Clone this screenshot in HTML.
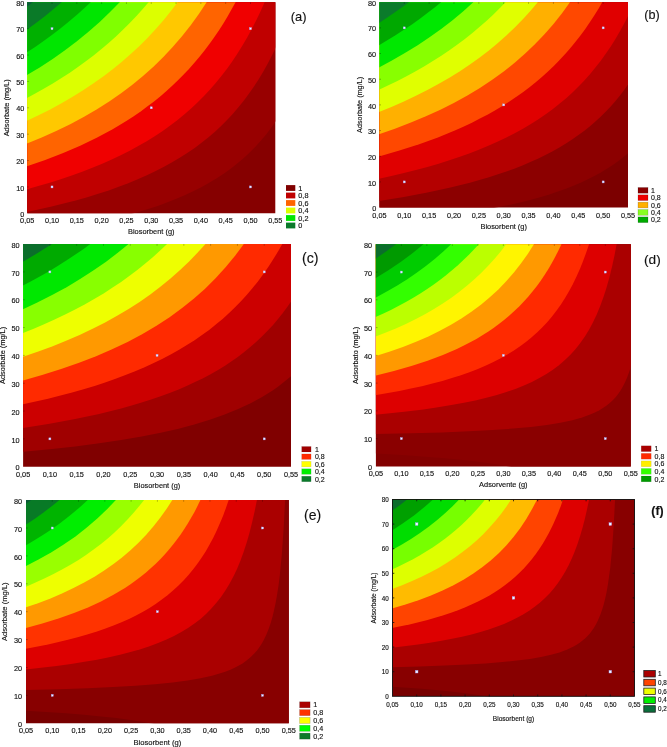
<!DOCTYPE html>
<html><head><meta charset="utf-8"><style>
html,body{margin:0;padding:0;background:#fff;width:667px;height:747px;overflow:hidden}
svg{display:block;filter:blur(0.35px)}
</style></head><body>
<svg width="667" height="747" viewBox="0 0 667 747" font-family='"Liberation Sans", sans-serif'>
<style>text{stroke:#111;stroke-width:0.14px;fill:#111}</style>
<clipPath id="clipa"><rect x="27.20" y="2.30" width="248.10" height="211.00"/></clipPath>
<g clip-path="url(#clipa)">
<rect x="26.20" y="1.30" width="250.10" height="213.00" fill="#860000"/>
<path d="M276.3,1.3 276.3,120.6 271.2,127.8 266.3,134.3 260.8,140.8 255.4,146.8 249.4,152.8 243.5,158.3 237.2,163.6 230.7,168.7 223.7,173.7 216.7,178.3 209.2,182.8 201.2,187.2 193.2,191.3 184.6,195.3 175.7,199.1 166.2,202.8 157.7,205.9 148.9,208.8 130.5,214.3 26.2,214.3 26.2,1.3Z" fill="#980000"/>
<path d="M276.3,1.3 276.3,46.4 272.2,55.0 267.9,63.3 263.5,71.3 258.7,79.3 253.8,86.8 248.7,94.1 243.7,100.8 238.2,107.6 232.7,114.0 226.8,120.3 220.8,126.3 214.7,131.9 208.2,137.5 201.5,142.8 194.7,147.9 187.2,153.0 179.7,157.8 172.1,162.3 164.0,166.8 155.7,171.1 146.8,175.3 137.7,179.3 128.2,183.2 118.7,186.8 108.7,190.4 98.2,193.8 87.2,197.2 75.7,200.5 63.7,203.6 51.7,206.5 26.2,212.1 26.2,1.3Z" fill="#c00000"/>
<path d="M265.0,1.3 260.8,10.8 256.5,19.8 251.9,28.8 247.3,37.3 242.3,45.8 237.3,53.8 232.2,61.5 227.0,68.8 221.2,76.3 215.7,83.1 209.8,89.8 203.7,96.3 197.2,102.8 190.8,108.8 184.2,114.5 177.2,120.2 170.2,125.5 162.7,130.9 154.7,136.2 146.7,141.2 138.2,146.1 129.7,150.7 120.7,155.3 111.7,159.5 102.2,163.7 92.3,167.8 82.2,171.7 71.7,175.5 60.7,179.2 49.7,182.7 38.2,186.1 26.2,189.4 26.2,1.3Z" fill="#f00000"/>
<path d="M236.1,1.3 227.7,16.3 223.2,23.7 218.7,30.7 213.9,37.8 209.2,44.3 204.3,50.8 199.5,56.8 194.2,63.1 188.7,69.2 183.2,75.1 177.7,80.6 172.2,85.8 166.2,91.3 160.2,96.4 153.7,101.7 147.2,106.6 140.7,111.4 133.7,116.2 126.7,120.7 119.7,125.0 112.2,129.4 104.7,133.6 96.7,137.7 80.2,145.7 63.2,153.0 45.2,160.0 26.2,166.6 26.2,1.3Z" fill="#ff6400"/>
<path d="M207.2,1.3 199.2,13.4 190.7,25.2 182.0,36.3 172.9,46.8 163.6,56.8 153.7,66.5 143.3,75.8 132.4,84.8 121.1,93.3 109.2,101.6 97.0,109.3 84.1,116.8 70.7,123.9 56.2,131.0 41.7,137.5 26.2,143.9 26.2,1.3Z" fill="#ffc800"/>
<path d="M178.3,1.3 171.1,10.8 163.7,19.9 156.0,28.8 147.7,37.7 139.2,46.2 130.7,54.1 121.9,61.8 112.7,69.3 103.2,76.5 93.2,83.6 82.7,90.6 72.2,97.1 61.5,103.3 50.2,109.4 38.5,115.3 26.2,121.1 26.2,1.3Z" fill="#dcff00"/>
<path d="M149.4,1.3 143.2,8.6 136.7,15.8 130.0,22.8 123.2,29.6 116.2,36.2 109.2,42.5 101.8,48.8 94.2,54.9 86.2,61.0 78.3,66.8 70.2,72.4 61.9,77.8 53.2,83.2 44.6,88.3 35.7,93.3 26.2,98.4 26.2,1.3Z" fill="#80ff00"/>
<path d="M120.6,1.3 110.3,11.8 99.7,21.9 88.5,31.8 76.9,41.3 65.0,50.3 52.7,59.0 39.7,67.4 26.2,75.6 26.2,1.3Z" fill="#00e600"/>
<path d="M91.7,1.3 84.2,8.3 76.7,15.0 68.7,21.8 60.7,28.3 52.2,34.8 44.0,40.8 35.2,46.9 26.2,52.9 26.2,1.3Z" fill="#00b000"/>
<path d="M62.8,1.3 54.2,8.6 45.2,15.9 35.7,23.2 26.2,30.1 26.2,1.3Z" fill="#0a7a28"/>
<path d="M33.9,1.3 26.2,7.4 26.2,1.3Z" fill="#0a5a3a"/>
<rect x="51.01" y="185.93" width="2.00" height="2.00" fill="#f4f4ff" stroke="#9aa0ff" stroke-width="0.4"/>
<rect x="51.01" y="27.68" width="2.00" height="2.00" fill="#f4f4ff" stroke="#9aa0ff" stroke-width="0.4"/>
<rect x="150.25" y="106.80" width="2.00" height="2.00" fill="#f4f4ff" stroke="#9aa0ff" stroke-width="0.4"/>
<rect x="249.49" y="185.93" width="2.00" height="2.00" fill="#f4f4ff" stroke="#9aa0ff" stroke-width="0.4"/>
<rect x="249.49" y="27.68" width="2.00" height="2.00" fill="#f4f4ff" stroke="#9aa0ff" stroke-width="0.4"/>
</g>
<path d="M52.01,2.30v1.6M76.82,2.30v1.6M101.63,2.30v1.6M126.44,2.30v1.6M151.25,2.30v1.6M176.06,2.30v1.6M200.87,2.30v1.6M225.68,2.30v1.6M250.49,2.30v1.6M27.20,186.93h1.6M27.20,160.55h1.6M27.20,134.18h1.6M27.20,107.80h1.6M27.20,81.43h1.6M27.20,55.05h1.6M27.20,28.68h1.6" stroke="rgba(0,0,0,0.4)" stroke-width="0.7" fill="none"/>
<text x="24.30" y="216.90" font-size="7.30" text-anchor="end" fill="#1a1a1a">0</text>
<text x="24.30" y="190.53" font-size="7.30" text-anchor="end" fill="#1a1a1a">10</text>
<text x="24.30" y="164.15" font-size="7.30" text-anchor="end" fill="#1a1a1a">20</text>
<text x="24.30" y="137.78" font-size="7.30" text-anchor="end" fill="#1a1a1a">30</text>
<text x="24.30" y="111.40" font-size="7.30" text-anchor="end" fill="#1a1a1a">40</text>
<text x="24.30" y="85.03" font-size="7.30" text-anchor="end" fill="#1a1a1a">50</text>
<text x="24.30" y="58.65" font-size="7.30" text-anchor="end" fill="#1a1a1a">60</text>
<text x="24.30" y="32.28" font-size="7.30" text-anchor="end" fill="#1a1a1a">70</text>
<text x="24.30" y="5.90" font-size="7.30" text-anchor="end" fill="#1a1a1a">80</text>
<text x="27.20" y="223.20" font-size="7.30" text-anchor="middle" fill="#1a1a1a">0,05</text>
<text x="52.01" y="223.20" font-size="7.30" text-anchor="middle" fill="#1a1a1a">0,10</text>
<text x="76.82" y="223.20" font-size="7.30" text-anchor="middle" fill="#1a1a1a">0,15</text>
<text x="101.63" y="223.20" font-size="7.30" text-anchor="middle" fill="#1a1a1a">0,20</text>
<text x="126.44" y="223.20" font-size="7.30" text-anchor="middle" fill="#1a1a1a">0,25</text>
<text x="151.25" y="223.20" font-size="7.30" text-anchor="middle" fill="#1a1a1a">0,30</text>
<text x="176.06" y="223.20" font-size="7.30" text-anchor="middle" fill="#1a1a1a">0,35</text>
<text x="200.87" y="223.20" font-size="7.30" text-anchor="middle" fill="#1a1a1a">0,40</text>
<text x="225.68" y="223.20" font-size="7.30" text-anchor="middle" fill="#1a1a1a">0,45</text>
<text x="250.49" y="223.20" font-size="7.30" text-anchor="middle" fill="#1a1a1a">0,50</text>
<text x="275.30" y="223.20" font-size="7.30" text-anchor="middle" fill="#1a1a1a">0,55</text>
<text x="151.25" y="234.30" font-size="7.40" text-anchor="middle" fill="#1a1a1a">Biosorbent (g)</text>
<text x="9.20" y="107.80" font-size="7.40" text-anchor="middle" fill="#1a1a1a" transform="rotate(-90 9.20 107.80)">Adsorbate (mg/L)</text>
<text x="290.80" y="20.60" font-size="12.90" text-anchor="start" fill="#1a1a1a">(a)</text>
<rect x="286.00" y="185.10" width="9.30" height="5.80" fill="#800000"/>
<text x="298.30" y="190.60" font-size="7.30" text-anchor="start" fill="#1a1a1a">1</text>
<rect x="286.00" y="192.60" width="9.30" height="5.80" fill="#c00000"/>
<text x="298.30" y="198.10" font-size="7.30" text-anchor="start" fill="#1a1a1a">0,8</text>
<rect x="286.00" y="200.10" width="9.30" height="5.80" fill="#ff6400"/>
<text x="298.30" y="205.60" font-size="7.30" text-anchor="start" fill="#1a1a1a">0,6</text>
<rect x="286.00" y="207.60" width="9.30" height="5.80" fill="#dcff00"/>
<text x="298.30" y="213.10" font-size="7.30" text-anchor="start" fill="#1a1a1a">0,4</text>
<rect x="286.00" y="215.10" width="9.30" height="5.80" fill="#00e600"/>
<text x="298.30" y="220.60" font-size="7.30" text-anchor="start" fill="#1a1a1a">0,2</text>
<rect x="286.00" y="222.60" width="9.30" height="5.80" fill="#0b7a2b"/>
<text x="298.30" y="228.10" font-size="7.30" text-anchor="start" fill="#1a1a1a">0</text>
<clipPath id="clipb"><rect x="379.40" y="2.20" width="248.60" height="205.40"/></clipPath>
<g clip-path="url(#clipb)">
<rect x="378.40" y="1.20" width="250.60" height="207.40" fill="#7c0000"/>
<path d="M629.0,1.2 629.0,152.4 623.9,156.7 618.4,161.0 612.9,164.9 606.9,168.8 600.9,172.4 594.4,176.0 587.4,179.5 580.6,182.7 573.4,185.8 565.9,188.7 557.9,191.6 549.4,194.4 540.9,197.0 531.9,199.5 522.4,201.9 512.4,204.2 491.1,208.6 378.4,208.6 378.4,1.2Z" fill="#8c0000"/>
<path d="M629.0,1.2 629.0,83.2 624.7,89.2 620.2,95.2 615.7,100.7 610.9,106.2 605.9,111.5 600.9,116.5 595.4,121.5 590.0,126.2 584.4,130.7 578.4,135.1 572.4,139.3 565.9,143.5 559.4,147.4 552.7,151.2 545.9,154.8 538.4,158.4 530.9,161.8 523.0,165.2 514.9,168.4 506.4,171.5 488.9,177.3 469.9,182.7 449.4,187.8 427.4,192.6 403.9,197.0 378.4,201.1 378.4,1.2Z" fill="#b40000"/>
<path d="M629.0,1.2 629.0,14.0 624.6,22.7 620.2,30.7 615.6,38.7 610.9,46.2 605.9,53.6 600.8,60.7 595.4,67.6 589.9,74.2 584.1,80.7 578.3,86.7 572.2,92.7 565.9,98.4 559.4,103.8 552.6,109.2 545.7,114.2 538.4,119.2 530.9,124.0 522.9,128.7 514.7,133.2 506.4,137.5 497.9,141.5 488.9,145.6 479.4,149.5 469.8,153.2 459.9,156.8 449.4,160.3 438.6,163.7 427.4,167.0 415.9,170.1 403.9,173.1 391.4,176.1 378.4,178.9 378.4,1.2Z" fill="#e00000"/>
<path d="M602.8,1.2 598.5,8.7 594.1,15.7 589.5,22.7 584.9,29.4 579.9,36.2 574.9,42.6 569.8,48.7 564.5,54.7 558.9,60.7 553.5,66.2 547.7,71.7 541.9,77.0 535.7,82.2 529.5,87.2 522.9,92.2 516.4,96.8 509.4,101.5 502.4,105.9 495.3,110.2 487.9,114.4 479.9,118.6 471.9,122.7 463.9,126.4 455.4,130.2 437.9,137.4 419.2,144.2 399.4,150.6 378.4,156.7 378.4,1.2Z" fill="#ff4800"/>
<path d="M570.7,1.2 562.4,12.7 553.7,23.7 544.5,34.2 534.9,44.3 524.9,53.8 514.4,63.0 503.4,71.7 491.9,80.0 479.9,88.0 467.4,95.5 454.3,102.7 440.4,109.7 425.9,116.3 410.9,122.6 394.9,128.7 378.4,134.4 378.4,1.2Z" fill="#ffb000"/>
<path d="M538.6,1.2 531.0,10.2 523.3,18.7 515.0,27.2 506.6,35.2 497.9,42.9 488.9,50.4 479.4,57.7 469.9,64.5 459.9,71.2 449.4,77.7 438.4,84.1 427.4,90.0 415.9,95.8 403.9,101.5 391.4,106.9 378.4,112.2 378.4,1.2Z" fill="#e0ff00"/>
<path d="M506.5,1.2 499.9,8.1 493.4,14.4 486.4,20.9 479.4,27.1 472.4,32.9 464.9,38.9 457.1,44.7 449.4,50.2 441.3,55.7 432.9,61.0 424.4,66.2 415.7,71.2 406.5,76.2 397.4,80.9 387.9,85.6 378.4,90.0 378.4,1.2Z" fill="#88ff00"/>
<path d="M474.4,1.2 463.9,10.7 452.9,19.9 441.5,28.7 429.9,37.1 417.7,45.2 404.9,53.1 391.9,60.5 378.4,67.7 378.4,1.2Z" fill="#00e800"/>
<path d="M442.3,1.2 435.0,7.2 427.4,13.1 419.9,18.7 411.9,24.4 403.9,29.8 395.5,35.2 386.9,40.5 378.4,45.5 378.4,1.2Z" fill="#00a800"/>
<path d="M410.2,1.2 402.8,6.7 394.9,12.3 386.9,17.8 378.4,23.3 378.4,1.2Z" fill="#0b7b2b"/>
<rect x="403.26" y="180.92" width="2.00" height="2.00" fill="#f4f4ff" stroke="#9aa0ff" stroke-width="0.4"/>
<rect x="403.26" y="26.88" width="2.00" height="2.00" fill="#f4f4ff" stroke="#9aa0ff" stroke-width="0.4"/>
<rect x="502.70" y="103.90" width="2.00" height="2.00" fill="#f4f4ff" stroke="#9aa0ff" stroke-width="0.4"/>
<rect x="602.14" y="180.92" width="2.00" height="2.00" fill="#f4f4ff" stroke="#9aa0ff" stroke-width="0.4"/>
<rect x="602.14" y="26.88" width="2.00" height="2.00" fill="#f4f4ff" stroke="#9aa0ff" stroke-width="0.4"/>
</g>
<path d="M404.26,2.20v1.6M429.12,2.20v1.6M453.98,2.20v1.6M478.84,2.20v1.6M503.70,2.20v1.6M528.56,2.20v1.6M553.42,2.20v1.6M578.28,2.20v1.6M603.14,2.20v1.6M379.40,181.92h1.6M379.40,156.25h1.6M379.40,130.57h1.6M379.40,104.90h1.6M379.40,79.22h1.6M379.40,53.55h1.6M379.40,27.88h1.6" stroke="rgba(0,0,0,0.4)" stroke-width="0.7" fill="none"/>
<text x="376.20" y="211.20" font-size="7.30" text-anchor="end" fill="#1a1a1a">0</text>
<text x="376.20" y="185.52" font-size="7.30" text-anchor="end" fill="#1a1a1a">10</text>
<text x="376.20" y="159.85" font-size="7.30" text-anchor="end" fill="#1a1a1a">20</text>
<text x="376.20" y="134.17" font-size="7.30" text-anchor="end" fill="#1a1a1a">30</text>
<text x="376.20" y="108.50" font-size="7.30" text-anchor="end" fill="#1a1a1a">40</text>
<text x="376.20" y="82.82" font-size="7.30" text-anchor="end" fill="#1a1a1a">50</text>
<text x="376.20" y="57.15" font-size="7.30" text-anchor="end" fill="#1a1a1a">60</text>
<text x="376.20" y="31.48" font-size="7.30" text-anchor="end" fill="#1a1a1a">70</text>
<text x="376.20" y="5.80" font-size="7.30" text-anchor="end" fill="#1a1a1a">80</text>
<text x="379.40" y="217.80" font-size="7.30" text-anchor="middle" fill="#1a1a1a">0,05</text>
<text x="404.26" y="217.80" font-size="7.30" text-anchor="middle" fill="#1a1a1a">0,10</text>
<text x="429.12" y="217.80" font-size="7.30" text-anchor="middle" fill="#1a1a1a">0,15</text>
<text x="453.98" y="217.80" font-size="7.30" text-anchor="middle" fill="#1a1a1a">0,20</text>
<text x="478.84" y="217.80" font-size="7.30" text-anchor="middle" fill="#1a1a1a">0,25</text>
<text x="503.70" y="217.80" font-size="7.30" text-anchor="middle" fill="#1a1a1a">0,30</text>
<text x="528.56" y="217.80" font-size="7.30" text-anchor="middle" fill="#1a1a1a">0,35</text>
<text x="553.42" y="217.80" font-size="7.30" text-anchor="middle" fill="#1a1a1a">0,40</text>
<text x="578.28" y="217.80" font-size="7.30" text-anchor="middle" fill="#1a1a1a">0,45</text>
<text x="603.14" y="217.80" font-size="7.30" text-anchor="middle" fill="#1a1a1a">0,50</text>
<text x="628.00" y="217.80" font-size="7.30" text-anchor="middle" fill="#1a1a1a">0,55</text>
<text x="503.70" y="228.90" font-size="7.40" text-anchor="middle" fill="#1a1a1a">Biosorbent (g)</text>
<text x="361.80" y="104.90" font-size="7.25" text-anchor="middle" fill="#1a1a1a" transform="rotate(-90 361.80 104.90)">Adsorbate (mg/L)</text>
<text x="644.20" y="18.60" font-size="12.60" text-anchor="start" fill="#1a1a1a">(b)</text>
<rect x="638.00" y="187.50" width="10.00" height="5.70" fill="#8a0000" stroke="rgba(0,0,0,0.25)" stroke-width="0.6"/>
<text x="651.00" y="193.00" font-size="7.00" text-anchor="start" fill="#1a1a1a">1</text>
<rect x="638.00" y="194.85" width="10.00" height="5.70" fill="#ee0000" stroke="rgba(0,0,0,0.25)" stroke-width="0.6"/>
<text x="651.00" y="200.35" font-size="7.00" text-anchor="start" fill="#1a1a1a">0,8</text>
<rect x="638.00" y="202.20" width="10.00" height="5.70" fill="#ffb000" stroke="rgba(0,0,0,0.25)" stroke-width="0.6"/>
<text x="651.00" y="207.70" font-size="7.00" text-anchor="start" fill="#1a1a1a">0,6</text>
<rect x="638.00" y="209.55" width="10.00" height="5.70" fill="#88ff22" stroke="rgba(0,0,0,0.25)" stroke-width="0.6"/>
<text x="651.00" y="215.05" font-size="7.00" text-anchor="start" fill="#1a1a1a">0,4</text>
<rect x="638.00" y="216.90" width="10.00" height="5.70" fill="#00aa00" stroke="rgba(0,0,0,0.25)" stroke-width="0.6"/>
<text x="651.00" y="222.40" font-size="7.00" text-anchor="start" fill="#1a1a1a">0,2</text>
<clipPath id="clipc"><rect x="23.10" y="244.10" width="267.90" height="222.60"/></clipPath>
<g clip-path="url(#clipc)">
<rect x="22.10" y="243.10" width="269.90" height="224.60" fill="#800000"/>
<path d="M292.0,243.1 292.0,375.3 287.6,379.1 282.6,383.1 277.6,386.9 272.6,390.4 262.1,397.0 250.6,403.2 238.1,409.1 224.6,414.6 210.5,419.6 195.1,424.3 178.6,428.7 160.6,432.8 141.6,436.5 121.1,440.1 99.1,443.3 75.1,446.4 49.6,449.3 22.1,451.9 22.1,243.1Z" fill="#a00000"/>
<path d="M292.0,243.1 292.0,300.1 287.6,306.6 282.6,313.3 277.6,319.6 272.6,325.4 267.3,331.1 261.9,336.6 256.1,342.0 250.3,347.1 244.2,352.1 238.1,356.7 231.6,361.3 224.6,365.9 217.6,370.2 210.1,374.4 202.6,378.4 195.0,382.1 187.1,385.7 178.6,389.4 169.6,392.9 160.6,396.3 151.1,399.5 141.6,402.5 131.6,405.5 121.1,408.4 99.1,413.9 75.1,419.0 49.6,423.8 22.1,428.2 22.1,243.1Z" fill="#cc0000"/>
<path d="M282.8,243.1 278.3,251.1 273.4,259.1 268.6,266.6 263.4,274.1 258.1,281.2 252.6,288.1 247.1,294.6 241.2,301.1 235.3,307.1 229.1,313.1 222.6,318.9 215.8,324.6 209.1,329.9 202.0,335.1 194.6,340.2 186.9,345.1 179.1,349.8 171.1,354.3 162.6,358.7 153.7,363.1 144.6,367.2 135.1,371.3 125.5,375.1 115.6,378.8 105.1,382.5 94.6,385.9 83.6,389.2 72.1,392.5 60.5,395.6 48.1,398.7 22.1,404.5 22.1,243.1Z" fill="#ff2a00"/>
<path d="M244.5,243.1 235.3,255.6 225.8,267.1 215.8,278.1 205.1,288.7 194.0,298.6 182.1,308.1 169.6,317.2 156.1,326.0 142.1,334.3 127.6,341.9 112.1,349.3 96.1,356.2 79.1,362.8 61.1,369.1 42.1,375.1 22.1,380.8 22.1,243.1Z" fill="#ff9900"/>
<path d="M206.3,243.1 197.7,252.6 189.1,261.5 180.1,270.1 170.5,278.6 160.7,286.6 150.6,294.2 139.6,301.9 128.6,309.0 117.1,315.8 105.1,322.4 92.6,328.8 79.6,334.9 66.1,340.8 52.1,346.4 37.6,351.8 22.1,357.1 22.1,243.1Z" fill="#eeff00"/>
<path d="M168.0,243.1 160.7,250.1 153.1,256.9 145.6,263.3 137.6,269.7 129.6,275.8 121.1,281.9 112.6,287.6 103.6,293.4 94.6,298.8 85.1,304.2 75.1,309.5 65.1,314.6 54.6,319.6 44.1,324.3 33.1,329.0 22.1,333.4 22.1,243.1Z" fill="#88ff00"/>
<path d="M129.7,243.1 118.1,252.6 106.1,261.7 93.3,270.6 80.1,279.1 66.6,287.2 52.1,295.1 37.3,302.6 22.1,309.7 22.1,243.1Z" fill="#00e800"/>
<path d="M91.5,243.1 83.6,248.9 75.4,254.6 67.1,260.1 58.5,265.6 49.6,271.0 40.7,276.1 31.6,281.1 22.1,286.0 22.1,243.1Z" fill="#00aa00"/>
<path d="M53.2,243.1 38.1,252.8 22.1,262.3 22.1,243.1Z" fill="#0b6e2b"/>
<rect x="48.89" y="437.88" width="2.00" height="2.00" fill="#f4f4ff" stroke="#9aa0ff" stroke-width="0.4"/>
<rect x="48.89" y="270.92" width="2.00" height="2.00" fill="#f4f4ff" stroke="#9aa0ff" stroke-width="0.4"/>
<rect x="156.05" y="354.40" width="2.00" height="2.00" fill="#f4f4ff" stroke="#9aa0ff" stroke-width="0.4"/>
<rect x="263.21" y="437.88" width="2.00" height="2.00" fill="#f4f4ff" stroke="#9aa0ff" stroke-width="0.4"/>
<rect x="263.21" y="270.92" width="2.00" height="2.00" fill="#f4f4ff" stroke="#9aa0ff" stroke-width="0.4"/>
</g>
<path d="M49.89,244.10v1.6M76.68,244.10v1.6M103.47,244.10v1.6M130.26,244.10v1.6M157.05,244.10v1.6M183.84,244.10v1.6M210.63,244.10v1.6M237.42,244.10v1.6M264.21,244.10v1.6M23.10,438.88h1.6M23.10,411.05h1.6M23.10,383.23h1.6M23.10,355.40h1.6M23.10,327.57h1.6M23.10,299.75h1.6M23.10,271.92h1.6" stroke="rgba(0,0,0,0.4)" stroke-width="0.7" fill="none"/>
<text x="19.50" y="470.40" font-size="7.30" text-anchor="end" fill="#1a1a1a">0</text>
<text x="19.50" y="442.57" font-size="7.30" text-anchor="end" fill="#1a1a1a">10</text>
<text x="19.50" y="414.75" font-size="7.30" text-anchor="end" fill="#1a1a1a">20</text>
<text x="19.50" y="386.93" font-size="7.30" text-anchor="end" fill="#1a1a1a">30</text>
<text x="19.50" y="359.10" font-size="7.30" text-anchor="end" fill="#1a1a1a">40</text>
<text x="19.50" y="331.27" font-size="7.30" text-anchor="end" fill="#1a1a1a">50</text>
<text x="19.50" y="303.45" font-size="7.30" text-anchor="end" fill="#1a1a1a">60</text>
<text x="19.50" y="275.62" font-size="7.30" text-anchor="end" fill="#1a1a1a">70</text>
<text x="19.50" y="247.80" font-size="7.30" text-anchor="end" fill="#1a1a1a">80</text>
<text x="23.10" y="477.00" font-size="7.30" text-anchor="middle" fill="#1a1a1a">0,05</text>
<text x="49.89" y="477.00" font-size="7.30" text-anchor="middle" fill="#1a1a1a">0,10</text>
<text x="76.68" y="477.00" font-size="7.30" text-anchor="middle" fill="#1a1a1a">0,15</text>
<text x="103.47" y="477.00" font-size="7.30" text-anchor="middle" fill="#1a1a1a">0,20</text>
<text x="130.26" y="477.00" font-size="7.30" text-anchor="middle" fill="#1a1a1a">0,25</text>
<text x="157.05" y="477.00" font-size="7.30" text-anchor="middle" fill="#1a1a1a">0,30</text>
<text x="183.84" y="477.00" font-size="7.30" text-anchor="middle" fill="#1a1a1a">0,35</text>
<text x="210.63" y="477.00" font-size="7.30" text-anchor="middle" fill="#1a1a1a">0,40</text>
<text x="237.42" y="477.00" font-size="7.30" text-anchor="middle" fill="#1a1a1a">0,45</text>
<text x="264.21" y="477.00" font-size="7.30" text-anchor="middle" fill="#1a1a1a">0,50</text>
<text x="291.00" y="477.00" font-size="7.30" text-anchor="middle" fill="#1a1a1a">0,55</text>
<text x="157.05" y="487.50" font-size="7.40" text-anchor="middle" fill="#1a1a1a">Biosorbent (g)</text>
<text x="5.30" y="355.40" font-size="7.40" text-anchor="middle" fill="#1a1a1a" transform="rotate(-90 5.30 355.40)">Adsorbate (mg/L)</text>
<text x="302.00" y="263.40" font-size="14.20" text-anchor="start" fill="#1a1a1a">(c)</text>
<rect x="301.70" y="446.50" width="9.40" height="5.50" fill="#a00000" stroke="rgba(0,0,0,0.15)" stroke-width="0.5"/>
<text x="314.90" y="451.80" font-size="7.00" text-anchor="start" fill="#1a1a1a">1</text>
<rect x="301.70" y="453.93" width="9.40" height="5.50" fill="#ff2a00" stroke="rgba(0,0,0,0.15)" stroke-width="0.5"/>
<text x="314.90" y="459.23" font-size="7.00" text-anchor="start" fill="#1a1a1a">0,8</text>
<rect x="301.70" y="461.36" width="9.40" height="5.50" fill="#ffff00" stroke="rgba(0,0,0,0.15)" stroke-width="0.5"/>
<text x="314.90" y="466.66" font-size="7.00" text-anchor="start" fill="#1a1a1a">0,6</text>
<rect x="301.70" y="468.79" width="9.40" height="5.50" fill="#00ee00" stroke="rgba(0,0,0,0.15)" stroke-width="0.5"/>
<text x="314.90" y="474.09" font-size="7.00" text-anchor="start" fill="#1a1a1a">0,4</text>
<rect x="301.70" y="476.22" width="9.40" height="5.50" fill="#0b7a2b" stroke="rgba(0,0,0,0.15)" stroke-width="0.5"/>
<text x="314.90" y="481.52" font-size="7.00" text-anchor="start" fill="#1a1a1a">0,2</text>
<clipPath id="clipd"><rect x="375.90" y="244.30" width="254.90" height="222.10"/></clipPath>
<g clip-path="url(#clipd)">
<rect x="374.90" y="243.30" width="256.90" height="224.10" fill="#820000"/>
<path d="M631.8,243.3 631.8,467.4 513.5,467.4 500.9,465.1 487.4,463.0 472.4,461.1 455.9,459.3 438.4,457.7 418.9,456.2 397.9,454.8 374.9,453.6 374.9,243.3Z" fill="#8a0000"/>
<path d="M631.8,243.3 631.8,363.3 629.7,370.3 627.4,376.8 624.8,382.8 621.9,388.3 619.7,391.8 617.4,394.9 614.9,397.9 612.2,400.8 609.4,403.3 606.3,405.8 602.9,408.1 599.4,410.2 595.4,412.3 591.4,414.1 582.8,417.3 572.4,420.2 560.4,422.8 546.9,425.0 530.9,426.9 512.9,428.6 492.4,430.0 468.9,431.3 441.9,432.4 410.9,433.3 374.9,434.1 374.9,243.3Z" fill="#aa0000"/>
<path d="M616.8,243.3 614.4,255.8 611.9,267.2 609.3,277.8 606.4,287.9 603.4,297.3 600.1,306.3 596.6,314.8 592.9,322.5 588.9,329.9 584.7,336.8 580.1,343.3 575.4,349.2 570.4,354.8 564.9,360.1 558.9,365.2 552.9,369.7 546.4,374.0 539.4,378.1 531.9,382.0 523.9,385.6 515.4,388.9 506.4,392.1 496.9,395.0 486.4,397.8 475.4,400.4 463.9,402.8 451.4,405.1 437.9,407.3 423.4,409.4 408.4,411.3 392.4,413.0 374.9,414.7 374.9,243.3Z" fill="#dd0000"/>
<path d="M589.4,243.3 586.3,252.3 583.2,260.8 579.9,269.0 576.4,276.8 572.8,284.3 569.0,291.3 565.2,297.8 561.1,304.3 556.8,310.3 552.2,316.3 547.4,322.0 542.4,327.3 537.3,332.3 531.7,337.3 526.2,341.8 520.1,346.3 513.9,350.5 507.4,354.5 500.7,358.3 493.4,362.0 485.9,365.5 477.9,368.9 469.4,372.2 460.9,375.2 451.9,378.1 442.4,380.9 432.4,383.6 421.9,386.2 410.9,388.6 399.4,390.9 374.9,395.2 374.9,243.3Z" fill="#ff2a00"/>
<path d="M561.9,243.3 558.8,249.8 555.4,256.5 552.0,262.8 548.4,268.9 544.7,274.8 540.9,280.4 536.9,285.9 532.7,291.3 528.4,296.5 524.1,301.3 519.4,306.2 514.6,310.8 509.7,315.3 504.4,319.7 499.2,323.8 493.9,327.7 488.4,331.5 482.4,335.3 476.4,338.9 470.2,342.3 463.9,345.6 456.9,348.9 442.9,355.0 427.6,360.8 411.4,366.1 393.9,371.1 374.9,375.8 374.9,243.3Z" fill="#ff9900"/>
<path d="M534.5,243.3 527.9,253.7 521.1,263.3 513.9,272.5 506.2,281.3 498.4,289.4 489.8,297.3 480.9,304.7 471.4,311.8 461.4,318.5 451.0,324.8 439.9,330.8 428.4,336.4 416.1,341.8 402.9,347.0 389.2,351.8 374.9,356.3 374.9,243.3Z" fill="#fff500"/>
<path d="M507.0,243.3 500.9,251.2 494.6,258.8 488.2,265.8 481.4,272.8 474.4,279.3 466.9,285.8 459.4,291.8 451.4,297.7 443.2,303.3 434.4,308.8 425.4,314.0 416.4,318.8 406.4,323.7 396.4,328.3 385.9,332.6 374.9,336.9 374.9,243.3Z" fill="#bbff00"/>
<path d="M479.6,243.3 474.4,249.0 468.9,254.7 463.4,260.1 457.9,265.2 452.0,270.3 446.0,275.3 439.9,280.0 433.4,284.7 426.8,289.3 419.9,293.8 412.9,298.0 405.9,302.1 398.4,306.1 390.9,310.0 382.9,313.8 374.9,317.4 374.9,243.3Z" fill="#33ff00"/>
<path d="M452.1,243.3 443.6,251.3 435.0,258.8 425.9,266.0 416.7,272.8 406.9,279.5 396.9,285.8 385.9,292.1 374.9,298.0 374.9,243.3Z" fill="#00cc00"/>
<path d="M424.6,243.3 413.1,252.8 401.0,261.8 388.4,270.3 374.9,278.5 374.9,243.3Z" fill="#009a00"/>
<path d="M397.2,243.3 386.4,251.3 374.9,259.1 374.9,243.3Z" fill="#0b6e2b"/>
<rect x="400.39" y="437.64" width="2.00" height="2.00" fill="#f4f4ff" stroke="#9aa0ff" stroke-width="0.4"/>
<rect x="400.39" y="271.06" width="2.00" height="2.00" fill="#f4f4ff" stroke="#9aa0ff" stroke-width="0.4"/>
<rect x="502.35" y="354.35" width="2.00" height="2.00" fill="#f4f4ff" stroke="#9aa0ff" stroke-width="0.4"/>
<rect x="604.31" y="437.64" width="2.00" height="2.00" fill="#f4f4ff" stroke="#9aa0ff" stroke-width="0.4"/>
<rect x="604.31" y="271.06" width="2.00" height="2.00" fill="#f4f4ff" stroke="#9aa0ff" stroke-width="0.4"/>
</g>
<path d="M401.39,244.30v1.6M426.88,244.30v1.6M452.37,244.30v1.6M477.86,244.30v1.6M503.35,244.30v1.6M528.84,244.30v1.6M554.33,244.30v1.6M579.82,244.30v1.6M605.31,244.30v1.6M375.90,438.64h1.6M375.90,410.88h1.6M375.90,383.11h1.6M375.90,355.35h1.6M375.90,327.59h1.6M375.90,299.82h1.6M375.90,272.06h1.6" stroke="rgba(0,0,0,0.4)" stroke-width="0.7" fill="none"/>
<text x="372.00" y="470.00" font-size="7.30" text-anchor="end" fill="#1a1a1a">0</text>
<text x="372.00" y="442.24" font-size="7.30" text-anchor="end" fill="#1a1a1a">10</text>
<text x="372.00" y="414.48" font-size="7.30" text-anchor="end" fill="#1a1a1a">20</text>
<text x="372.00" y="386.71" font-size="7.30" text-anchor="end" fill="#1a1a1a">30</text>
<text x="372.00" y="358.95" font-size="7.30" text-anchor="end" fill="#1a1a1a">40</text>
<text x="372.00" y="331.19" font-size="7.30" text-anchor="end" fill="#1a1a1a">50</text>
<text x="372.00" y="303.43" font-size="7.30" text-anchor="end" fill="#1a1a1a">60</text>
<text x="372.00" y="275.66" font-size="7.30" text-anchor="end" fill="#1a1a1a">70</text>
<text x="372.00" y="247.90" font-size="7.30" text-anchor="end" fill="#1a1a1a">80</text>
<text x="375.90" y="476.30" font-size="7.30" text-anchor="middle" fill="#1a1a1a">0,05</text>
<text x="401.39" y="476.30" font-size="7.30" text-anchor="middle" fill="#1a1a1a">0,10</text>
<text x="426.88" y="476.30" font-size="7.30" text-anchor="middle" fill="#1a1a1a">0,15</text>
<text x="452.37" y="476.30" font-size="7.30" text-anchor="middle" fill="#1a1a1a">0,20</text>
<text x="477.86" y="476.30" font-size="7.30" text-anchor="middle" fill="#1a1a1a">0,25</text>
<text x="503.35" y="476.30" font-size="7.30" text-anchor="middle" fill="#1a1a1a">0,30</text>
<text x="528.84" y="476.30" font-size="7.30" text-anchor="middle" fill="#1a1a1a">0,35</text>
<text x="554.33" y="476.30" font-size="7.30" text-anchor="middle" fill="#1a1a1a">0,40</text>
<text x="579.82" y="476.30" font-size="7.30" text-anchor="middle" fill="#1a1a1a">0,45</text>
<text x="605.31" y="476.30" font-size="7.30" text-anchor="middle" fill="#1a1a1a">0,50</text>
<text x="630.80" y="476.30" font-size="7.30" text-anchor="middle" fill="#1a1a1a">0,55</text>
<text x="503.35" y="487.20" font-size="7.40" text-anchor="middle" fill="#1a1a1a">Adsorvente (g)</text>
<text x="358.20" y="355.35" font-size="7.40" text-anchor="middle" fill="#1a1a1a" transform="rotate(-90 358.20 355.35)">Adsorbato (mg/L)</text>
<text x="644.00" y="263.60" font-size="13.70" text-anchor="start" fill="#1a1a1a">(d)</text>
<rect x="641.20" y="445.80" width="10.00" height="5.80" fill="#aa0000" stroke="rgba(0,0,0,0.15)" stroke-width="0.5"/>
<text x="654.60" y="451.30" font-size="7.00" text-anchor="start" fill="#1a1a1a">1</text>
<rect x="641.20" y="453.35" width="10.00" height="5.80" fill="#ff2a00" stroke="rgba(0,0,0,0.15)" stroke-width="0.5"/>
<text x="654.60" y="458.85" font-size="7.00" text-anchor="start" fill="#1a1a1a">0,8</text>
<rect x="641.20" y="460.90" width="10.00" height="5.80" fill="#ffee00" stroke="rgba(0,0,0,0.15)" stroke-width="0.5"/>
<text x="654.60" y="466.40" font-size="7.00" text-anchor="start" fill="#1a1a1a">0,6</text>
<rect x="641.20" y="468.45" width="10.00" height="5.80" fill="#33ff00" stroke="rgba(0,0,0,0.15)" stroke-width="0.5"/>
<text x="654.60" y="473.95" font-size="7.00" text-anchor="start" fill="#1a1a1a">0,4</text>
<rect x="641.20" y="476.00" width="10.00" height="5.80" fill="#009a00" stroke="rgba(0,0,0,0.15)" stroke-width="0.5"/>
<text x="654.60" y="481.50" font-size="7.00" text-anchor="start" fill="#1a1a1a">0,2</text>
<clipPath id="clipe"><rect x="26.00" y="500.10" width="262.80" height="223.20"/></clipPath>
<g clip-path="url(#clipe)">
<rect x="25.00" y="499.10" width="264.80" height="225.20" fill="#780000"/>
<path d="M289.8,499.1 289.8,724.3 155.8,724.3 143.5,722.0 130.5,720.0 116.4,718.1 101.0,716.4 84.0,714.7 66.0,713.3 46.5,712.0 25.0,710.7 25.0,499.1Z" fill="#880000"/>
<path d="M285.1,499.1 283.6,529.1 281.8,554.6 279.7,576.1 278.5,585.6 277.1,594.6 275.7,602.6 274.1,610.1 272.5,616.8 270.7,623.1 268.6,629.1 266.5,634.3 264.0,639.6 261.5,644.0 259.5,647.1 257.0,650.4 254.5,653.3 251.8,656.1 249.0,658.6 245.9,661.1 242.5,663.4 238.9,665.6 235.1,667.6 231.0,669.5 226.5,671.3 222.0,672.8 212.0,675.7 200.5,678.3 187.5,680.5 172.5,682.5 155.0,684.2 135.5,685.7 113.0,687.0 87.5,688.2 58.5,689.2 25.0,690.1 25.0,499.1Z" fill="#aa0000"/>
<path d="M257.1,499.1 254.7,511.1 252.2,522.1 249.6,532.6 246.7,542.6 243.6,552.1 240.5,560.6 237.0,569.0 233.4,576.6 229.5,583.8 225.4,590.6 221.0,597.0 216.2,603.1 211.4,608.6 206.0,614.0 200.5,618.9 194.5,623.5 188.0,628.0 181.3,632.1 174.0,636.0 166.5,639.6 158.1,643.1 149.5,646.3 140.5,649.2 130.5,652.1 120.0,654.8 109.0,657.3 97.0,659.7 84.5,661.8 71.0,663.9 56.5,665.9 41.0,667.8 25.0,669.5 25.0,499.1Z" fill="#dd0000"/>
<path d="M229.0,499.1 226.1,507.6 223.0,515.9 219.8,523.6 216.5,531.1 213.0,538.2 209.3,545.1 205.5,551.7 201.4,558.1 197.2,564.1 193.0,569.6 188.5,575.1 183.5,580.6 178.5,585.6 173.0,590.6 167.5,595.2 161.8,599.6 156.0,603.7 149.5,607.9 143.0,611.7 136.0,615.5 129.0,618.9 121.5,622.3 113.5,625.6 105.5,628.6 97.0,631.5 88.0,634.3 78.5,637.1 68.9,639.6 58.6,642.1 48.0,644.4 25.0,648.9 25.0,499.1Z" fill="#ff3300"/>
<path d="M200.9,499.1 194.5,511.9 187.8,523.6 184.3,529.1 180.5,534.7 176.6,540.1 172.7,545.1 168.6,550.1 164.5,554.7 160.0,559.5 155.5,564.0 151.0,568.1 146.0,572.5 141.0,576.5 136.0,580.3 130.5,584.2 125.0,587.9 113.5,594.8 101.0,601.4 88.0,607.4 74.0,613.1 58.5,618.6 42.3,623.6 25.0,628.3 25.0,499.1Z" fill="#ff9900"/>
<path d="M172.9,499.1 166.5,509.0 160.0,518.1 153.3,526.6 146.0,535.0 138.5,542.8 130.5,550.3 122.0,557.5 113.5,564.1 104.2,570.6 94.5,576.7 84.2,582.6 73.5,588.1 62.5,593.3 50.5,598.4 38.0,603.2 25.0,607.7 25.0,499.1Z" fill="#eeff00"/>
<path d="M144.8,499.1 139.3,506.1 133.4,513.1 127.5,519.6 121.0,526.3 114.5,532.5 108.0,538.2 101.0,543.9 93.6,549.6 86.0,554.9 78.5,559.9 70.5,564.8 62.0,569.6 53.5,574.1 44.3,578.6 35.0,582.8 25.0,587.1 25.0,499.1Z" fill="#99ff00"/>
<path d="M116.7,499.1 107.3,509.1 97.3,518.6 86.8,527.6 75.5,536.4 63.7,544.6 51.5,552.2 38.5,559.6 25.0,566.4 25.0,499.1Z" fill="#00ee00"/>
<path d="M88.7,499.1 81.5,505.7 74.2,512.1 66.8,518.1 59.0,524.0 51.0,529.7 42.5,535.3 34.0,540.6 25.0,545.8 25.0,499.1Z" fill="#00b400"/>
<path d="M60.6,499.1 52.0,506.1 43.5,512.6 34.5,519.0 25.0,525.2 25.0,499.1Z" fill="#087a26"/>
<path d="M32.5,499.1 25.0,504.6 25.0,499.1Z" fill="#0a5a35"/>
<rect x="51.28" y="694.40" width="2.00" height="2.00" fill="#f4f4ff" stroke="#9aa0ff" stroke-width="0.4"/>
<rect x="51.28" y="527.00" width="2.00" height="2.00" fill="#f4f4ff" stroke="#9aa0ff" stroke-width="0.4"/>
<rect x="156.40" y="610.70" width="2.00" height="2.00" fill="#f4f4ff" stroke="#9aa0ff" stroke-width="0.4"/>
<rect x="261.52" y="694.40" width="2.00" height="2.00" fill="#f4f4ff" stroke="#9aa0ff" stroke-width="0.4"/>
<rect x="261.52" y="527.00" width="2.00" height="2.00" fill="#f4f4ff" stroke="#9aa0ff" stroke-width="0.4"/>
</g>
<path d="M52.28,500.10v1.6M78.56,500.10v1.6M104.84,500.10v1.6M131.12,500.10v1.6M157.40,500.10v1.6M183.68,500.10v1.6M209.96,500.10v1.6M236.24,500.10v1.6M262.52,500.10v1.6M26.00,695.40h1.6M26.00,667.50h1.6M26.00,639.60h1.6M26.00,611.70h1.6M26.00,583.80h1.6M26.00,555.90h1.6M26.00,528.00h1.6" stroke="rgba(0,0,0,0.4)" stroke-width="0.7" fill="none"/>
<text x="22.00" y="726.90" font-size="7.30" text-anchor="end" fill="#1a1a1a">0</text>
<text x="22.00" y="699.00" font-size="7.30" text-anchor="end" fill="#1a1a1a">10</text>
<text x="22.00" y="671.10" font-size="7.30" text-anchor="end" fill="#1a1a1a">20</text>
<text x="22.00" y="643.20" font-size="7.30" text-anchor="end" fill="#1a1a1a">30</text>
<text x="22.00" y="615.30" font-size="7.30" text-anchor="end" fill="#1a1a1a">40</text>
<text x="22.00" y="587.40" font-size="7.30" text-anchor="end" fill="#1a1a1a">50</text>
<text x="22.00" y="559.50" font-size="7.30" text-anchor="end" fill="#1a1a1a">60</text>
<text x="22.00" y="531.60" font-size="7.30" text-anchor="end" fill="#1a1a1a">70</text>
<text x="22.00" y="503.70" font-size="7.30" text-anchor="end" fill="#1a1a1a">80</text>
<text x="26.00" y="733.20" font-size="7.30" text-anchor="middle" fill="#1a1a1a">0,05</text>
<text x="52.28" y="733.20" font-size="7.30" text-anchor="middle" fill="#1a1a1a">0,10</text>
<text x="78.56" y="733.20" font-size="7.30" text-anchor="middle" fill="#1a1a1a">0,15</text>
<text x="104.84" y="733.20" font-size="7.30" text-anchor="middle" fill="#1a1a1a">0,20</text>
<text x="131.12" y="733.20" font-size="7.30" text-anchor="middle" fill="#1a1a1a">0,25</text>
<text x="157.40" y="733.20" font-size="7.30" text-anchor="middle" fill="#1a1a1a">0,30</text>
<text x="183.68" y="733.20" font-size="7.30" text-anchor="middle" fill="#1a1a1a">0,35</text>
<text x="209.96" y="733.20" font-size="7.30" text-anchor="middle" fill="#1a1a1a">0,40</text>
<text x="236.24" y="733.20" font-size="7.30" text-anchor="middle" fill="#1a1a1a">0,45</text>
<text x="262.52" y="733.20" font-size="7.30" text-anchor="middle" fill="#1a1a1a">0,50</text>
<text x="288.80" y="733.20" font-size="7.30" text-anchor="middle" fill="#1a1a1a">0,55</text>
<text x="157.40" y="745.00" font-size="7.60" text-anchor="middle" fill="#1a1a1a">Biosorbent (g)</text>
<text x="7.10" y="611.70" font-size="7.60" text-anchor="middle" fill="#1a1a1a" transform="rotate(-90 7.10 611.70)">Adsorbate (mg/L)</text>
<text x="304.00" y="520.00" font-size="14.00" text-anchor="start" fill="#1a1a1a">(e)</text>
<rect x="299.60" y="701.80" width="10.50" height="6.00" fill="#aa0000" stroke="rgba(0,0,0,0.25)" stroke-width="0.6"/>
<text x="313.20" y="707.40" font-size="7.20" text-anchor="start" fill="#1a1a1a">1</text>
<rect x="299.60" y="709.63" width="10.50" height="6.00" fill="#ff3300" stroke="rgba(0,0,0,0.25)" stroke-width="0.6"/>
<text x="313.20" y="715.23" font-size="7.20" text-anchor="start" fill="#1a1a1a">0,8</text>
<rect x="299.60" y="717.46" width="10.50" height="6.00" fill="#ffff00" stroke="rgba(0,0,0,0.25)" stroke-width="0.6"/>
<text x="313.20" y="723.06" font-size="7.20" text-anchor="start" fill="#1a1a1a">0,6</text>
<rect x="299.60" y="725.29" width="10.50" height="6.00" fill="#00ff00" stroke="rgba(0,0,0,0.25)" stroke-width="0.6"/>
<text x="313.20" y="730.89" font-size="7.20" text-anchor="start" fill="#1a1a1a">0,4</text>
<rect x="299.60" y="733.12" width="10.50" height="6.00" fill="#0b7a2b" stroke="rgba(0,0,0,0.25)" stroke-width="0.6"/>
<text x="313.20" y="738.72" font-size="7.20" text-anchor="start" fill="#1a1a1a">0,2</text>
<clipPath id="clipf"><rect x="392.50" y="499.50" width="242.00" height="196.80"/></clipPath>
<g clip-path="url(#clipf)">
<rect x="391.50" y="498.50" width="244.00" height="198.80" fill="#780000"/>
<path d="M635.5,498.5 635.5,697.3 491.3,697.3 481.5,695.6 471.5,694.1 448.5,691.3 422.0,688.8 391.5,686.7 391.5,498.5Z" fill="#880000"/>
<path d="M615.1,498.5 613.7,525.5 612.1,548.5 610.2,568.0 607.9,584.5 606.6,592.0 605.2,598.5 603.7,604.5 602.0,610.0 600.2,615.0 598.1,620.0 596.0,624.2 593.8,628.0 591.7,631.0 589.8,633.5 587.5,636.0 585.0,638.5 580.0,642.5 577.0,644.5 574.0,646.3 567.3,649.5 559.5,652.4 551.0,654.8 541.0,657.0 530.0,658.9 517.0,660.6 502.5,662.1 485.5,663.4 466.5,664.5 444.5,665.5 419.5,666.4 391.5,667.2 391.5,498.5Z" fill="#aa0000"/>
<path d="M589.3,498.5 587.2,508.5 585.0,518.3 582.6,527.5 580.1,536.0 577.5,544.0 574.7,551.5 571.8,558.5 568.5,565.5 565.0,572.0 561.5,577.8 557.6,583.5 553.8,588.5 549.5,593.5 545.0,598.1 540.1,602.5 535.0,606.6 529.5,610.5 523.5,614.3 517.5,617.6 511.0,620.8 504.0,623.9 496.5,626.8 488.7,629.5 480.5,632.0 471.5,634.4 462.0,636.7 452.0,638.8 441.5,640.8 430.0,642.7 418.0,644.5 391.5,647.7 391.5,498.5Z" fill="#dd0000"/>
<path d="M563.4,498.5 560.8,506.0 558.1,513.0 555.3,519.5 552.4,526.0 549.4,532.0 546.1,538.0 542.9,543.5 539.3,549.0 535.8,554.0 532.0,559.0 528.0,563.8 523.8,568.5 519.5,572.8 515.0,577.0 510.3,581.0 505.5,584.8 500.4,588.5 495.1,592.0 489.5,595.4 483.9,598.5 478.0,601.5 471.5,604.6 464.8,607.5 458.0,610.2 451.0,612.8 443.5,615.3 427.5,620.0 410.5,624.2 391.5,628.2 391.5,498.5Z" fill="#ff4400"/>
<path d="M537.6,498.5 532.1,509.0 526.3,519.0 520.0,528.4 513.5,537.0 506.5,545.2 499.0,553.0 491.0,560.2 482.5,567.1 473.4,573.5 463.9,579.5 453.5,585.2 442.6,590.5 431.0,595.5 418.5,600.2 405.5,604.6 391.5,608.7 391.5,498.5Z" fill="#ffbb00"/>
<path d="M511.7,498.5 506.5,506.4 501.0,513.9 495.3,521.0 489.5,527.6 483.0,534.4 476.6,540.5 469.6,546.5 462.5,552.1 455.0,557.5 447.0,562.8 438.5,567.9 430.0,572.5 421.0,577.0 411.5,581.3 401.5,585.4 391.5,589.2 391.5,498.5Z" fill="#ddff00"/>
<path d="M485.9,498.5 481.5,504.0 476.7,509.5 471.6,515.0 466.7,520.0 461.5,524.9 456.4,529.5 451.0,534.0 445.0,538.7 439.1,543.0 433.0,547.2 426.5,551.3 420.0,555.2 413.0,559.2 406.0,562.8 399.0,566.3 391.5,569.7 391.5,498.5Z" fill="#77ff00"/>
<path d="M460.1,498.5 452.8,506.0 445.3,513.0 437.2,520.0 429.0,526.5 420.0,533.0 411.0,538.9 401.5,544.7 391.5,550.2 391.5,498.5Z" fill="#00dd00"/>
<path d="M434.2,498.5 424.5,507.1 414.0,515.4 403.0,523.3 391.5,530.7 391.5,498.5Z" fill="#00a000"/>
<path d="M408.4,498.5 400.1,505.0 391.5,511.2 391.5,498.5Z" fill="#0b6e2b"/>
<rect x="415.40" y="670.40" width="2.60" height="2.60" fill="#f4f4ff" stroke="#9aa0ff" stroke-width="0.4"/>
<rect x="415.40" y="522.80" width="2.60" height="2.60" fill="#f4f4ff" stroke="#9aa0ff" stroke-width="0.4"/>
<rect x="512.20" y="596.60" width="2.60" height="2.60" fill="#f4f4ff" stroke="#9aa0ff" stroke-width="0.4"/>
<rect x="609.00" y="670.40" width="2.60" height="2.60" fill="#f4f4ff" stroke="#9aa0ff" stroke-width="0.4"/>
<rect x="609.00" y="522.80" width="2.60" height="2.60" fill="#f4f4ff" stroke="#9aa0ff" stroke-width="0.4"/>
</g>
<rect x="392.50" y="499.50" width="242.00" height="196.80" fill="none" stroke="#111" stroke-width="0.9"/>
<path d="M416.70,499.50v1.8M416.70,696.30v-1.8M440.90,499.50v1.8M440.90,696.30v-1.8M465.10,499.50v1.8M465.10,696.30v-1.8M489.30,499.50v1.8M489.30,696.30v-1.8M513.50,499.50v1.8M513.50,696.30v-1.8M537.70,499.50v1.8M537.70,696.30v-1.8M561.90,499.50v1.8M561.90,696.30v-1.8M586.10,499.50v1.8M586.10,696.30v-1.8M610.30,499.50v1.8M610.30,696.30v-1.8M392.50,671.70h1.8M634.50,671.70h-1.8M392.50,647.10h1.8M634.50,647.10h-1.8M392.50,622.50h1.8M634.50,622.50h-1.8M392.50,597.90h1.8M634.50,597.90h-1.8M392.50,573.30h1.8M634.50,573.30h-1.8M392.50,548.70h1.8M634.50,548.70h-1.8M392.50,524.10h1.8M634.50,524.10h-1.8" stroke="#111" stroke-width="0.8" fill="none"/>
<text x="388.80" y="699.00" font-size="6.30" text-anchor="end" fill="#1a1a1a">0</text>
<text x="388.80" y="674.40" font-size="6.30" text-anchor="end" fill="#1a1a1a">10</text>
<text x="388.80" y="649.80" font-size="6.30" text-anchor="end" fill="#1a1a1a">20</text>
<text x="388.80" y="625.20" font-size="6.30" text-anchor="end" fill="#1a1a1a">30</text>
<text x="388.80" y="600.60" font-size="6.30" text-anchor="end" fill="#1a1a1a">40</text>
<text x="388.80" y="576.00" font-size="6.30" text-anchor="end" fill="#1a1a1a">50</text>
<text x="388.80" y="551.40" font-size="6.30" text-anchor="end" fill="#1a1a1a">60</text>
<text x="388.80" y="526.80" font-size="6.30" text-anchor="end" fill="#1a1a1a">70</text>
<text x="388.80" y="502.20" font-size="6.30" text-anchor="end" fill="#1a1a1a">80</text>
<text x="392.50" y="707.00" font-size="6.30" text-anchor="middle" fill="#1a1a1a">0,05</text>
<text x="416.70" y="707.00" font-size="6.30" text-anchor="middle" fill="#1a1a1a">0,10</text>
<text x="440.90" y="707.00" font-size="6.30" text-anchor="middle" fill="#1a1a1a">0,15</text>
<text x="465.10" y="707.00" font-size="6.30" text-anchor="middle" fill="#1a1a1a">0,20</text>
<text x="489.30" y="707.00" font-size="6.30" text-anchor="middle" fill="#1a1a1a">0,25</text>
<text x="513.50" y="707.00" font-size="6.30" text-anchor="middle" fill="#1a1a1a">0,30</text>
<text x="537.70" y="707.00" font-size="6.30" text-anchor="middle" fill="#1a1a1a">0,35</text>
<text x="561.90" y="707.00" font-size="6.30" text-anchor="middle" fill="#1a1a1a">0,40</text>
<text x="586.10" y="707.00" font-size="6.30" text-anchor="middle" fill="#1a1a1a">0,45</text>
<text x="610.30" y="707.00" font-size="6.30" text-anchor="middle" fill="#1a1a1a">0,50</text>
<text x="634.50" y="707.00" font-size="6.30" text-anchor="middle" fill="#1a1a1a">0,55</text>
<text x="513.50" y="720.60" font-size="6.60" text-anchor="middle" fill="#1a1a1a">Biosorbent (g)</text>
<text x="375.70" y="597.90" font-size="6.60" text-anchor="middle" fill="#1a1a1a" transform="rotate(-90 375.70 597.90)">Adsorbate (mg/L)</text>
<text x="651.30" y="514.80" font-size="12.30" text-anchor="start" fill="#1a1a1a" font-weight="bold">(f)</text>
<rect x="643.80" y="670.50" width="11.50" height="6.50" fill="#aa0000" stroke="#222" stroke-width="0.8"/>
<text x="658.00" y="676.00" font-size="6.30" text-anchor="start" fill="#1a1a1a">1</text>
<rect x="643.80" y="679.30" width="11.50" height="6.50" fill="#ff4400" stroke="#222" stroke-width="0.8"/>
<text x="658.00" y="684.80" font-size="6.30" text-anchor="start" fill="#1a1a1a">0,8</text>
<rect x="643.80" y="688.10" width="11.50" height="6.50" fill="#eeff00" stroke="#222" stroke-width="0.8"/>
<text x="658.00" y="693.60" font-size="6.30" text-anchor="start" fill="#1a1a1a">0,6</text>
<rect x="643.80" y="696.90" width="11.50" height="6.50" fill="#00ee00" stroke="#222" stroke-width="0.8"/>
<text x="658.00" y="702.40" font-size="6.30" text-anchor="start" fill="#1a1a1a">0,4</text>
<rect x="643.80" y="705.70" width="11.50" height="6.50" fill="#0b6e3b" stroke="#222" stroke-width="0.8"/>
<text x="658.00" y="711.20" font-size="6.30" text-anchor="start" fill="#1a1a1a">0,2</text>
</svg>
</body></html>
